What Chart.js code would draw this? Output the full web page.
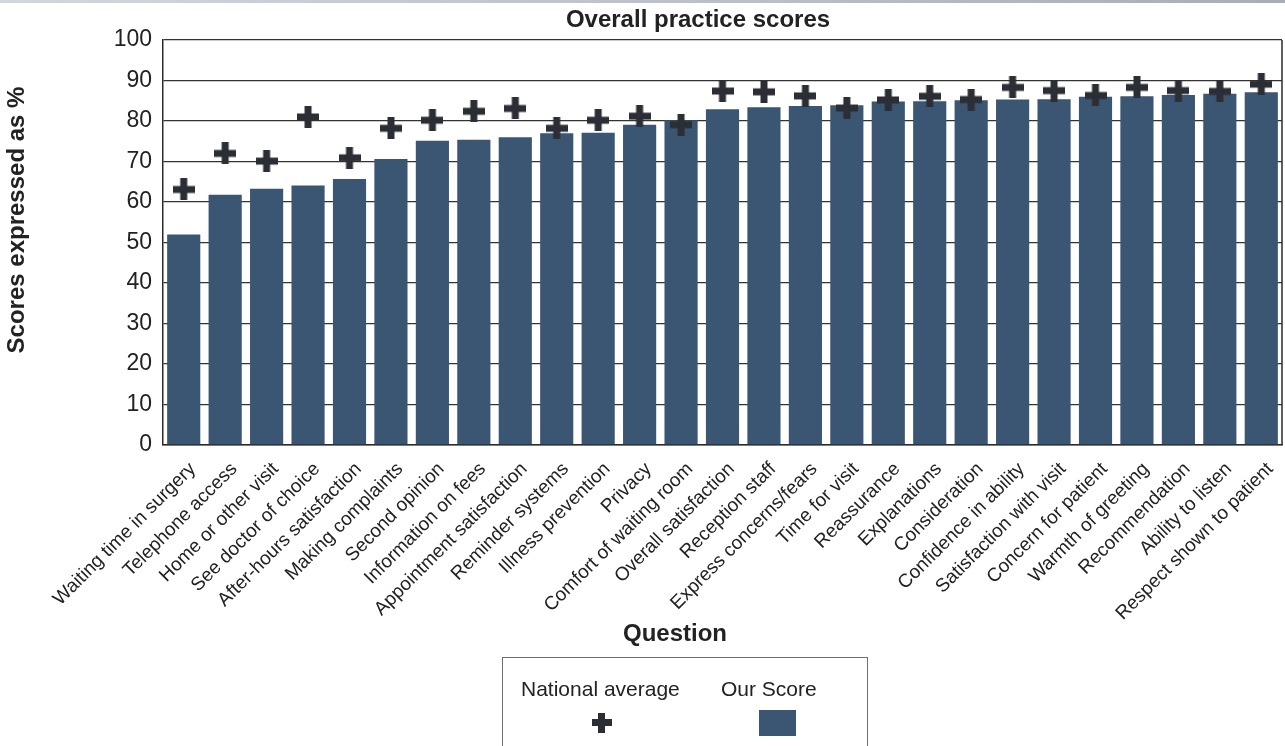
<!DOCTYPE html>
<html>
<head>
<meta charset="utf-8">
<title>Overall practice scores</title>
<script src="https://cdn.jsdelivr.net/npm/chart.js@4/dist/chart.umd.min.js"></script>
<style>
  html, body { margin: 0; padding: 0; background: #fff; overflow: hidden; }
  #wrap { position: relative; width: 1285px; height: 746px; }
  #topband { position: absolute; left: 0; top: 0; width: 1285px; height: 3px;
             background: linear-gradient(to right, #d3d6db, #a9aeb6); }
  #chart { position: absolute; left: 0; top: 0; }
  .legend { position: absolute; left: 502px; top: 657px; width: 366px; height: 100px;
            border: 1px solid #6e6e6e; box-sizing: border-box;
            font-family: "Liberation Sans", Arial, sans-serif; font-size: 21px; color: #222; }
  .legend span { position: absolute; line-height: 1; white-space: nowrap; }
  .cross-h, .cross-v { position: absolute; background: #2b2e34; }
  .swatch { position: absolute; background: #3b5672; }
</style>
</head>
<body>
<div id="wrap">
  <div id="topband"></div>
  <canvas id="chart" width="1285" height="746"></canvas>
  <div class="legend">
    <span style="left:18px; top:20px;">National average</span>
    <span style="left:218px; top:20px;">Our Score</span>
    <div class="cross-h" style="left:89px; top:61px; width:20px; height:7px;"></div>
    <div class="cross-v" style="left:95px; top:55px; width:7px; height:20px;"></div>
    <div class="swatch" style="left:256px; top:52px; width:37px; height:26px;"></div>
  </div>
</div>
<script>
// Survey questions, ordered by our score
const questions = [
  'Waiting time in surgery', 'Telephone access', 'Home or other visit', 'See doctor of choice',
  'After-hours satisfaction', 'Making complaints', 'Second opinion', 'Information on fees',
  'Appointment satisfaction', 'Reminder systems', 'Illness prevention', 'Privacy',
  'Comfort of waiting room', 'Overall satisfaction', 'Reception staff', 'Express concerns/fears',
  'Time for visit', 'Reassurance', 'Explanations', 'Consideration', 'Confidence in ability',
  'Satisfaction with visit', 'Concern for patient', 'Warmth of greeting', 'Recommendation',
  'Ability to listen', 'Respect shown to patient'
];

// Practice score per question (%)
const ourScore = [
  52.0, 61.8, 63.3, 64.1, 65.7, 70.6, 75.1, 75.4, 76.0, 77.0, 77.1, 79.1, 80.2, 82.9,
  83.4, 83.7, 83.9, 84.8, 84.9, 85.1, 85.3, 85.4, 86.0, 86.1, 86.4, 86.7, 87.1
];

// National average per question (%)
const nationalAverage = [
  63.1, 72.0, 70.1, 81.0, 70.9, 78.2, 80.2, 82.4, 83.1, 78.2, 80.2, 81.2, 79.1, 87.4,
  87.2, 86.2, 83.2, 85.2, 86.1, 85.3, 88.3, 87.5, 86.3, 88.3, 87.5, 87.3, 89.1
];

const FONT = '"Liberation Sans", Arial, sans-serif';
const TEXT = '#222222';
const BAR = '#3b5672';
const MARK = '#2b2e34';

// Thick plus-sign marker for the national average
function makePlusMarker(size, arm, color) {
  const c = document.createElement('canvas');
  c.width = size;
  c.height = size;
  const g = c.getContext('2d');
  g.fillStyle = color;
  const o = (size - arm) / 2;
  g.fillRect(0, o, size, arm);
  g.fillRect(o, 0, arm, size);
  return c;
}
const plusMarker = makePlusMarker(22, 7, MARK);

// Titles and the right-hand frame edge of the plot
const framePlugin = {
  id: 'frameAndTitles',
  afterDraw(chart) {
    const { ctx, chartArea: a } = chart;
    ctx.save();
    ctx.strokeStyle = '#2a2a2a';
    ctx.lineWidth = 1.5;
    ctx.beginPath();
    ctx.moveTo(a.right, a.top);
    ctx.lineTo(a.right, a.bottom);
    ctx.stroke();

    ctx.fillStyle = TEXT;
    ctx.textAlign = 'center';
    ctx.textBaseline = 'middle';
    ctx.font = 'bold 24px ' + FONT;
    ctx.fillText('Overall practice scores', 698, 20);
    ctx.fillText('Question', 675, 634);

    ctx.translate(17, 220);
    ctx.rotate(-Math.PI / 2);
    ctx.fillText('Scores expressed as %', 0, 0);
    ctx.restore();
  }
};

new Chart(document.getElementById('chart'), {
  data: {
    labels: questions,
    datasets: [
      {
        type: 'line',
        label: 'National average',
        data: nationalAverage,
        showLine: false,
        pointStyle: plusMarker,
        pointRadius: 1,
        pointHoverRadius: 1,
        pointBorderWidth: 0,
        clip: false,
        order: 0
      },
      {
        type: 'bar',
        label: 'Our Score',
        data: ourScore,
        backgroundColor: BAR,
        borderWidth: 0,
        barPercentage: 0.8,
        categoryPercentage: 1.0,
        order: 1
      }
    ]
  },
  options: {
    responsive: false,
    animation: false,
    events: [],
    layout: { padding: { top: 40, right: 3, left: 0, bottom: 0 } },
    plugins: {
      legend: { display: false },
      title: { display: false },
      tooltip: { enabled: false }
    },
    scales: {
      x: {
        grid: { display: false, drawTicks: false },
        border: { color: '#2a2a2a', width: 1.5 },
        ticks: {
          autoSkip: false,
          minRotation: 45,
          maxRotation: 45,
          padding: 13,
          labelOffset: 9,
          color: TEXT,
          font: { family: FONT, size: 19 }
        },
        afterFit(scale) {
          scale.height = 301;
          scale.paddingLeft = 0;
          scale.paddingRight = 0;
        }
      },
      y: {
        min: 0,
        max: 100,
        grid: { color: '#333333', lineWidth: 1.3, drawTicks: false },
        border: { color: '#2a2a2a', width: 1.5 },
        ticks: {
          stepSize: 10,
          padding: 11,
          color: TEXT,
          font: { family: FONT, size: 23 }
        },
        afterFit(scale) {
          scale.width = 163;
          scale.paddingTop = 0;
          scale.paddingBottom = 0;
        }
      }
    }
  },
  plugins: [framePlugin]
});
</script>
</body>
</html>
